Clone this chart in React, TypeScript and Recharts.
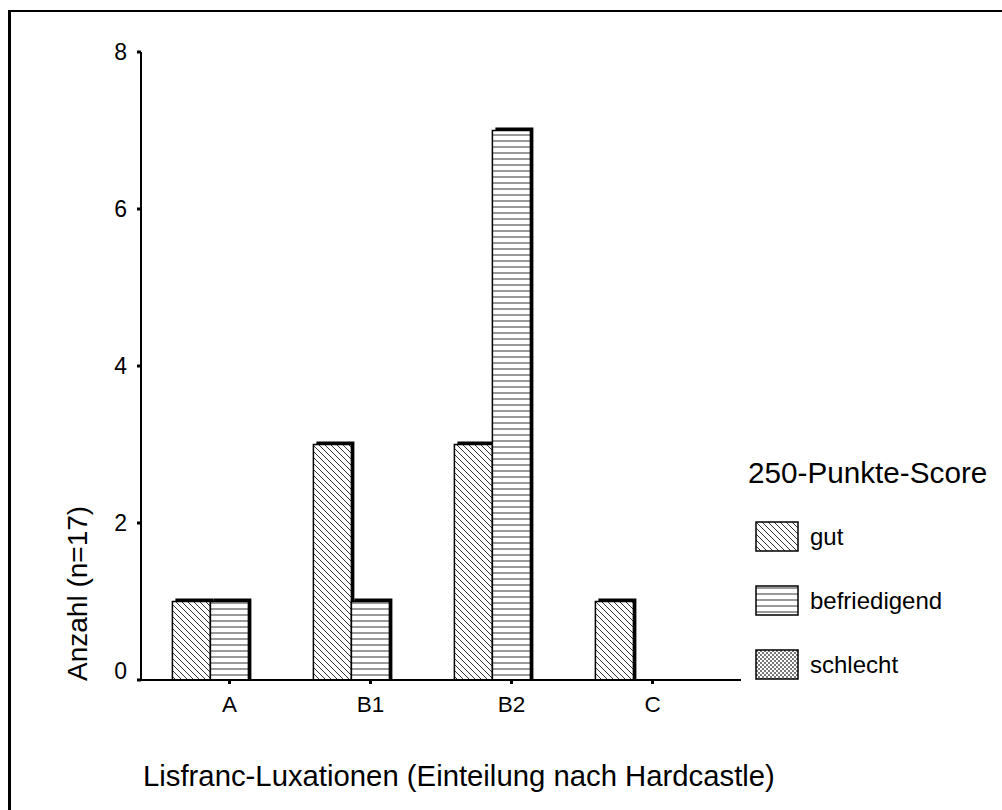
import React from "react";
import { BarChart, Bar, XAxis, YAxis, Legend } from "recharts";

const categories = ["A", "B1", "B2", "C"];
const gut = [1, 3, 3, 1];
const befriedigend = [1, 1, 7, 0];
const schlecht = [0, 0, 0, 0];
const yTicks = [0, 2, 4, 6, 8];
const seriesOrder = ["gut", "befriedigend", "schlecht"];

const data = categories.map((cat, i) => ({
  cat,
  gut: gut[i],
  befriedigend: befriedigend[i],
  schlecht: schlecht[i],
}));

const FONT = "'Liberation Sans', Arial, Helvetica, sans-serif";

function Patterns() {
  return (
    <svg width={0} height={0} style={{ position: "absolute" }}>
      <defs>
        <pattern id="pDiag" patternUnits="userSpaceOnUse" width={6} height={6}>
          <path d="M-1,-1 L7,7 M-1,5 L1,7 M5,-1 L7,1" stroke="#333" strokeWidth={1} />
        </pattern>
        <pattern id="pHoriz" patternUnits="userSpaceOnUse" width={6} height={6}>
          <path d="M0,3 L6,3" stroke="#333" strokeWidth={1} />
        </pattern>
        <pattern id="pCross" patternUnits="userSpaceOnUse" width={4} height={4}>
          <path d="M0,0 L4,4 M4,0 L0,4" stroke="#555" strokeWidth={0.8} />
        </pattern>
      </defs>
    </svg>
  );
}

function ShadowBar(props: any) {
  const { x, y, width, height, fill } = props;
  if (!height || height <= 0) return <g />;
  return (
    <g>
      <rect x={x + 3} y={y - 3} width={width} height={height + 3} fill="#000" />
      <rect x={x} y={y} width={width} height={height} fill="#fff" />
      <rect x={x} y={y} width={width} height={height} fill={fill} stroke="#000" strokeWidth={1.5} />
    </g>
  );
}

function YTick(props: any) {
  const { x, y, payload } = props;
  const shift = payload.value === 0 ? -9 : 0;
  return (
    <text x={x} y={y + shift} dy="0.36em" textAnchor="end" fontSize={23} fontFamily={FONT} fill="#000">
      {payload.value}
    </text>
  );
}

function XTick(props: any) {
  const { x, y, payload } = props;
  return (
    <text x={x} y={y} dy="0.7em" textAnchor="middle" fontSize={22.5} fontFamily={FONT} fill="#000">
      {payload.value}
    </text>
  );
}

function LegendBox(props: any) {
  const items = [...(props.payload || [])].sort(
    (a: any, b: any) => seriesOrder.indexOf(a.dataKey) - seriesOrder.indexOf(b.dataKey)
  );
  return (
    <div style={{ fontFamily: FONT, color: "#000" }}>
      <div style={{ fontSize: 29.7, lineHeight: "36px", whiteSpace: "nowrap" }}>250-Punkte-Score</div>
      <div style={{ height: 14 }} />
      {items.map((it: any) => (
        <div key={it.value} style={{ height: 64, display: "flex", alignItems: "center", paddingLeft: 7 }}>
          <svg width={44} height={32} style={{ marginRight: 11 }}>
            <rect x={1} y={1} width={42} height={29} fill="#fff" />
            <rect x={1} y={1} width={42} height={29} fill={it.color} stroke="#000" strokeWidth={1.5} />
          </svg>
          <span style={{ fontSize: 24 }}>{it.value}</span>
        </div>
      ))}
    </div>
  );
}

export default function App() {
  return (
    <div style={{ position: "absolute", left: 0, top: 0, width: 1002, height: 810, overflow: "hidden", background: "#fff" }}>
      <Patterns />
      <div
        style={{
          position: "absolute",
          left: 8,
          top: 10,
          width: 1010,
          height: 820,
          borderLeft: "3px solid #000",
          borderTop: "2px solid #000",
          boxSizing: "border-box",
        }}
      />
      <div style={{ position: "absolute", left: 0, top: 0 }}>
        <BarChart
          width={1002}
          height={810}
          data={data}
          margin={{ top: 52, right: 261, bottom: 0, left: 0 }}
          barCategoryGap="9.5%"
          barGap={0}
        >
          <XAxis
            dataKey="cat"
            height={130}
            padding={{ left: 18, right: 18 }}
            axisLine={{ stroke: "#000", strokeWidth: 2 }}
            tickLine={{ stroke: "#000", strokeWidth: 3 }}
            tickSize={4}
            tickMargin={12}
            tick={<XTick />}
            label={{
              content: () => (
                <text x={143} y={786} fontSize={29.3} fontFamily={FONT} fill="#000">
                  Lisfranc-Luxationen (Einteilung nach Hardcastle)
                </text>
              ),
            }}
          />
          <XAxis
            xAxisId="top"
            orientation="top"
            dataKey="cat"
            height={0}
            tick={false}
            tickLine={false}
            axisLine={{ stroke: "#000", strokeWidth: 2 }}
          />
          <YAxis
            width={141}
            domain={[0, 8]}
            ticks={yTicks}
            axisLine={{ stroke: "#000", strokeWidth: 2 }}
            tickLine={{ stroke: "#000", strokeWidth: 3 }}
            tickSize={4}
            tickMargin={10}
            tick={<YTick />}
            label={{
              content: () => (
                <text
                  x={87}
                  y={681}
                  transform="rotate(-90 87 681)"
                  fontSize={28}
                  fontFamily={FONT}
                  fill="#000"
                >
                  Anzahl (n=17)
                </text>
              ),
            }}
          />
          <YAxis
            yAxisId="right"
            orientation="right"
            width={0}
            domain={[0, 8]}
            tick={false}
            tickLine={false}
            axisLine={{ stroke: "#000", strokeWidth: 2 }}
          />
          <Bar dataKey="gut" name="gut" fill="url(#pDiag)" shape={<ShadowBar />} isAnimationActive={false} />
          <Bar dataKey="befriedigend" name="befriedigend" fill="url(#pHoriz)" shape={<ShadowBar />} isAnimationActive={false} />
          <Bar dataKey="schlecht" name="schlecht" fill="url(#pCross)" shape={<ShadowBar />} isAnimationActive={false} />
          <Legend
            layout="vertical"
            align="center"
            verticalAlign="middle"
            itemSorter={null as any}
            content={<LegendBox />}
            wrapperStyle={{ left: 748, top: 455, width: 250, height: "auto" }}
          />
        </BarChart>
      </div>
    </div>
  );
}
